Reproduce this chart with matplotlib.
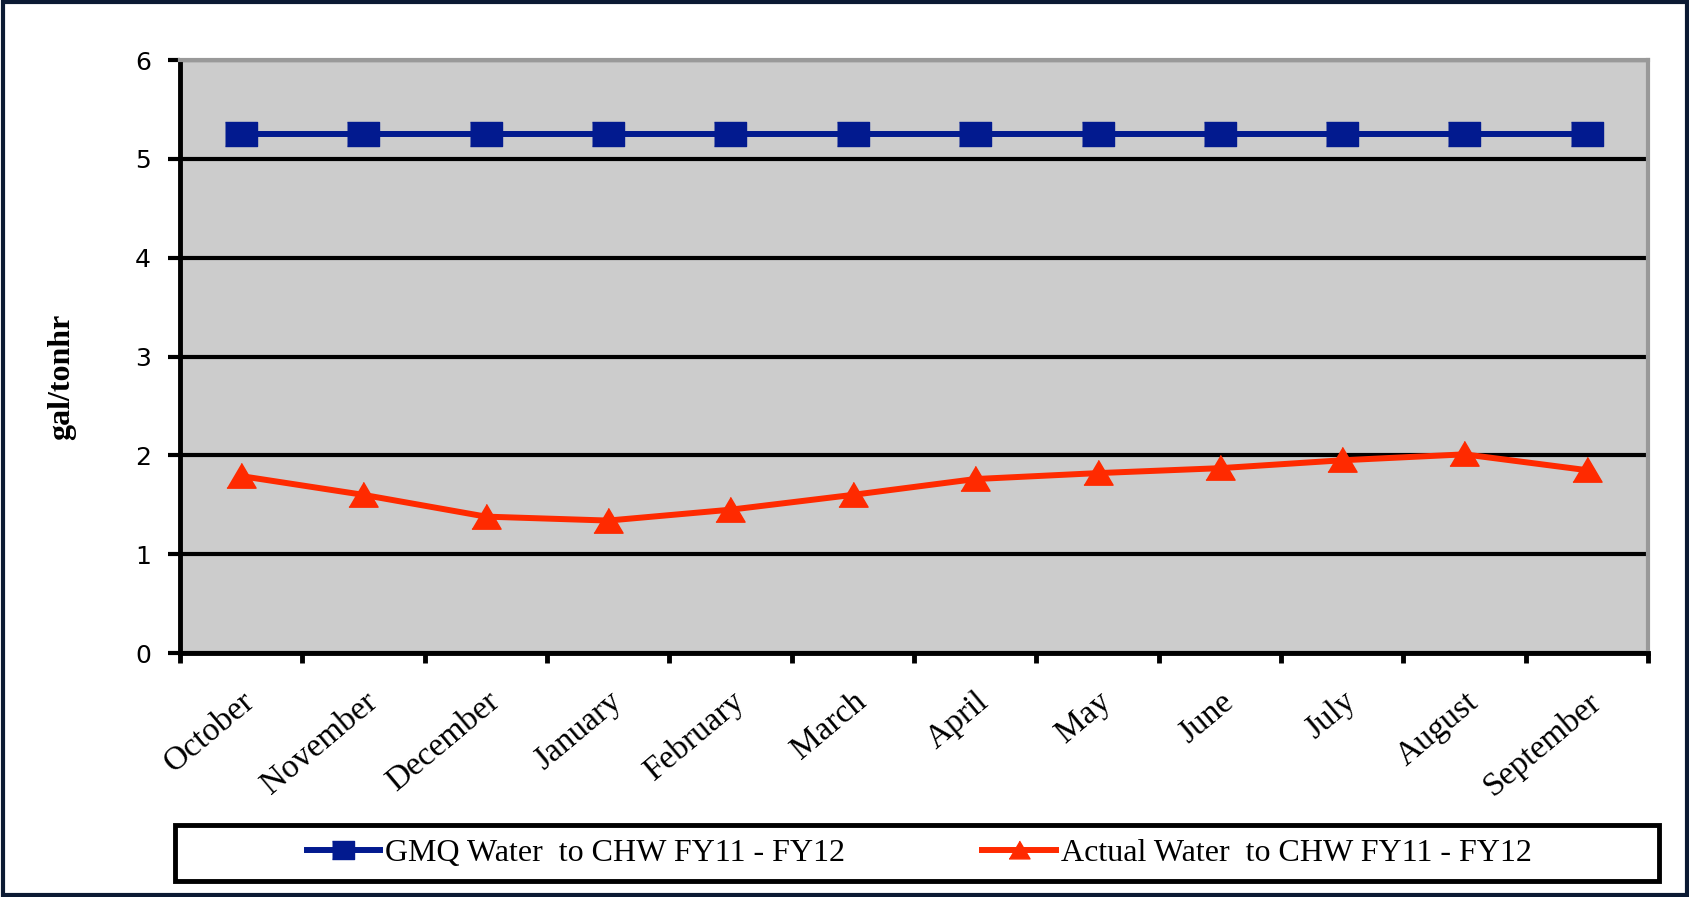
import matplotlib
matplotlib.use('Agg')
import matplotlib.pyplot as plt
from matplotlib.patches import Rectangle

months = ['October', 'November', 'December', 'January', 'February', 'March',
          'April', 'May', 'June', 'July', 'August', 'September']
gmq = [5.25] * 12
actual = [1.79, 1.60, 1.38, 1.34, 1.45, 1.60, 1.76, 1.82, 1.87, 1.95, 2.01, 1.85]
yticks = [0, 1, 2, 3, 4, 5, 6]

W, H = 1690, 897
fig = plt.figure(figsize=(W / 100, H / 100), dpi=100)
ax = fig.add_axes([180 / W, 1 - 653 / H, (1648 - 180) / W, (653 - 60) / H])
ax.set_facecolor('#cccccc')

x = range(len(months))
rect = [(-1, -0.75), (1, -0.75), (1, 0.75), (-1, 0.75)]
tri = [(-1, -0.8), (1, -0.8), (0, 0.9)]
ax.plot(x, gmq, color='#021a8f', lw=4.3, marker=rect, markersize=23,
        label='GMQ Water  to CHW FY11 - FY12', zorder=4)
ax.plot(x, actual, color='#ff2a00', lw=4.3, marker=tri, markersize=21,
        label='Actual Water  to CHW FY11 - FY12', zorder=4)

ax.set_xlim(-0.5, 11.5)
ax.set_ylim(0, 6)
ax.set_yticks(yticks)
ax.yaxis.grid(True, color='black', lw=3)
ax.set_axisbelow(True)

ax.set_xticks(list(x))
ax.set_xticks([i - 0.5 for i in range(13)], minor=True)
ax.tick_params(axis='x', which='major', length=0, pad=24, labelsize=24)
ax.tick_params(axis='x', which='minor', length=7, width=3.5, color='black')
ax.tick_params(axis='y', length=9, width=3, color='black', pad=12, labelsize=18)
ax.set_xticklabels(months, rotation=40, ha='right', rotation_mode='anchor',
                   fontsize=24, family='Liberation Serif')
for lab in ax.get_yticklabels():
    lab.set_family('DejaVu Sans')

for s in ['left', 'bottom']:
    ax.spines[s].set_color('black')
    ax.spines[s].set_linewidth(3.5)
for s in ['top', 'right']:
    ax.spines[s].set_color('#999999')
    ax.spines[s].set_linewidth(3)

fig.text(62 / W, 1 - 377 / H, 'gal/tonhr', rotation=90, ha='center', va='center',
         fontsize=23, fontweight='bold', family='Liberation Serif')

# legend box
fig.patches.append(Rectangle((175 / W, 1 - 881 / H), (1659 - 175) / W, 56 / H,
                             transform=fig.transFigure, fill=False,
                             edgecolor='black', lw=3.5))
fig.legend(loc='center', bbox_to_anchor=(919 / W, 1 - 853 / H), ncol=2,
           frameon=False, prop={'family': 'Liberation Serif', 'size': 23},
           handlelength=2.3, handletextpad=0.15, columnspacing=4.3, markerscale=0.72)

# outer border
fig.patches.append(Rectangle((0.0015, 0.002), 0.997, 0.996, transform=fig.transFigure,
                             fill=False, edgecolor='#0b1a33', lw=3))

fig.savefig('out.png', dpi=100)
